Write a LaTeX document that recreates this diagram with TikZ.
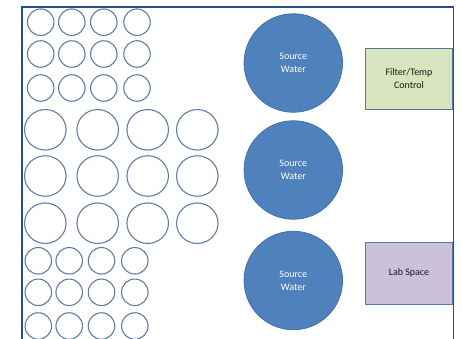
\documentclass[tikz,border=0pt]{standalone}
\usepackage{fontspec}
\setmainfont{Carlito}
\definecolor{framec}{RGB}{37,79,140}
\definecolor{ringc}{RGB}{95,125,168}
\definecolor{srcfill}{RGB}{79,129,189}
\definecolor{srcline}{RGB}{65,113,170}
\definecolor{filterfill}{RGB}{215,228,189}
\definecolor{labfill}{RGB}{204,193,218}
\definecolor{boxline}{RGB}{85,120,170}
\tikzset{
  smallring/.style={circle,draw=ringc,line width=1.1pt,minimum size=26.5pt,inner sep=0pt},
  bigring/.style={ellipse,draw=ringc,line width=1.1pt,minimum width=41.5pt,minimum height=40.5pt,inner sep=0pt},
  srcnode/.style={circle,fill=srcfill,draw=srcline,line width=0.8pt,minimum size=98.5pt,inner sep=0pt,
    text=white,font=\fontsize{10}{13}\selectfont,align=center},
  roombox/.style={draw=boxline,line width=1pt,minimum width=87.5pt,minimum height=61pt,inner sep=0pt,
    font=\fontsize{10}{13}\selectfont,align=center,text=black!90}
}
\usetikzlibrary{shapes.geometric}
\begin{document}
\begin{tikzpicture}[x=1pt,y=-1pt]
\useasboundingbox (0,0) rectangle (462,339);
% frame
\coordinate (fbl) at (22,339.5);
\coordinate (ftl) at (22,7);
\coordinate (ftr) at (453.5,7);
\coordinate (fbr) at (453.5,339.5);
\draw[framec,line width=1.5pt] (fbl) -- (ftl) -- (ftr) -- (fbr);
% top small rings
\foreach \r/\y in {1/22.2,2/54,3/88}{
  \foreach \c/\x in {1/40.7,2/71.8,3/103.8,4/137}{
    \node[smallring] (ts-\r-\c) at (\x,\y) {};
  }
}
% big rings
\foreach \r/\y in {1/129.8,2/176,3/223.2}{
  \foreach \c/\x in {1/45.3,2/97.7,3/147.7,4/197.3}{
    \node[bigring] (bg-\r-\c) at (\x,\y) {};
  }
}
% bottom small rings
\foreach \r/\y in {1/260.8,2/292.3,3/326}{
  \foreach \c/\x in {1/38.3,2/69.2,3/101.5,4/134.8}{
    \node[smallring] (bs-\r-\c) at (\x,\y) {};
  }
}
% source water
\node[srcnode] (src1) at (293.3,63) {Source\\Water};
\node[srcnode] (src2) at (293.3,170) {Source\\Water};
\node[srcnode] (src3) at (293.3,280.5) {Source\\Water};
% boxes
\node[roombox,fill=filterfill] (filter) at (409,78.8) {Filter/Temp\\Control};
\node[roombox,fill=labfill,minimum height=61.7pt] (lab) at (409,273.2) {Lab Space};
\end{tikzpicture}
\end{document}
